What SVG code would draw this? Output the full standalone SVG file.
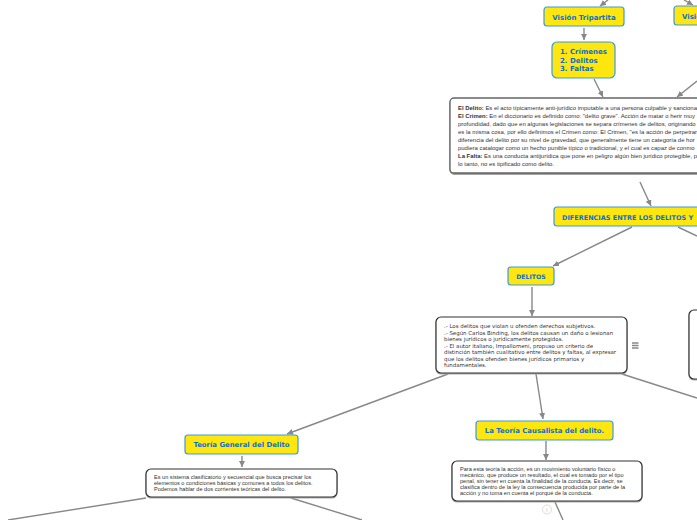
<svg xmlns="http://www.w3.org/2000/svg" width="697" height="520" viewBox="0 0 697 520">
<style>
.y{fill:#ffe60f;stroke:#3b9ae1;stroke-width:1.2}
.t{fill:#fff;stroke:#333;stroke-width:1.2;filter:drop-shadow(0 1px 0 #aaa)}
.g{fill:#fff;stroke:#666;stroke-width:1.3;filter:drop-shadow(0 1px 0 #888)}
.h{font-family:"DejaVu Sans",sans-serif;font-weight:700;fill:#0b6fd0}
.b{font-family:"Liberation Sans",Arial,sans-serif;font-size:5.6px;fill:#333}
.w{font-family:"Liberation Sans",Arial,sans-serif;font-size:5.95px;fill:#333}
.v{font-family:"DejaVu Sans",sans-serif;font-size:5.45px;fill:#333}
.c line{stroke:#888;stroke-width:1.4;fill:none}
.a{fill:#888}
</style>
<defs><marker id="m" markerWidth="7" markerHeight="7" refX="6" refY="3" orient="auto" markerUnits="userSpaceOnUse"><path class="a" d="M0 0L6 3L0 6z"/></marker></defs>
<g id="connectors" class="c">
<line x1="608" y1="0" x2="600" y2="6" marker-end="url(#m)"/>
<line x1="684" y1="0" x2="693" y2="5" marker-end="url(#m)"/>
<line x1="584" y1="28" x2="584" y2="40" marker-end="url(#m)"/>
<line x1="594" y1="79" x2="603" y2="97" marker-end="url(#m)"/>
<line x1="697" y1="81" x2="677" y2="97" marker-end="url(#m)"/>
<line x1="640" y1="182" x2="651" y2="206" marker-end="url(#m)"/>
<line x1="632" y1="227" x2="553" y2="266" marker-end="url(#m)"/>
<line x1="678" y1="227" x2="697" y2="236"/>
<line x1="532" y1="287" x2="532" y2="316" marker-end="url(#m)"/>
<line x1="448" y1="374" x2="287" y2="434" marker-end="url(#m)"/>
<line x1="536" y1="374" x2="543" y2="419" marker-end="url(#m)"/>
<line x1="622" y1="374" x2="697" y2="398"/>
<line x1="546" y1="441" x2="546" y2="460" marker-end="url(#m)"/>
<line x1="242" y1="456" x2="242" y2="467" marker-end="url(#m)"/>
<line x1="146" y1="498" x2="8" y2="520"/>
<line x1="291" y1="498" x2="362" y2="520"/>
<line x1="555" y1="502" x2="563" y2="520"/>
</g>
<g id="n1"><rect class="y" x="544" y="7" width="80" height="19" rx="3"/><text class="h" x="584" y="19.500" font-size="7" text-anchor="middle">Visión Tripartita</text></g>
<g id="n2"><rect class="y" x="674" y="6" width="40" height="19" rx="3"/><text class="h" x="682" y="18.500" font-size="7">Visión</text></g>
<g id="n3"><rect class="y" x="552" y="42" width="63" height="36" rx="5"/><text class="h" font-size="7"><tspan x="560" y="54">1. Crímenes</tspan><tspan x="560" y="63">2. Delitos</tspan><tspan x="560" y="71">3. Faltas</tspan></text></g>
<g id="n4"><rect class="g" x="450" y="98" width="280" height="75" rx="4"/><text class="w"><tspan x="458" y="110"><tspan font-weight="700">El Delito:</tspan> Es el acto típicamente anti-jurídico imputable a una persona culpable y sancionada</tspan><tspan x="458" y="118"><tspan font-weight="700">El Crimen:</tspan> En el diccionario es definido como: "delito grave". Acción de matar o herir muy</tspan><tspan x="458" y="126">profundidad, dado que en algunas legislaciones se separa crímenes de delitos, originando</tspan><tspan x="458" y="134">es la misma cosa, por ello definimos el Crimen como: El Crimen, "es la acción de perpetrar</tspan><tspan x="458" y="142">diferencia del delito por su nivel de gravedad, que generalmente tiene un categoría de hor</tspan><tspan x="458" y="150">pudiera catalogar como un hecho punible típico o tradicional, y el cual es capaz de conmo</tspan><tspan x="458" y="158"><tspan font-weight="700">La Falta:</tspan> Es una conducta antijurídica que pone en peligro algún bien jurídico protegible, p</tspan><tspan x="458" y="166">lo tanto, no es tipificado como delito.</tspan></text></g>
<g id="n5"><rect class="y" x="554" y="207" width="170" height="19" rx="3"/><text class="h" x="562" y="219.500" font-size="6.5">DIFERENCIAS ENTRE LOS DELITOS Y</text></g>
<g id="n6"><rect class="y" x="508" y="267" width="46" height="18" rx="3"/><text class="h" x="531" y="278.500" font-size="6.2" text-anchor="middle">DELITOS</text></g>
<g id="n7"><rect class="t" x="436" y="317" width="191" height="56" rx="5"/><text class="v"><tspan x="444" y="328">.- Los delitos que violan u ofenden derechos subjetivos.</tspan><tspan x="444" y="335">.- Según Carlos Binding, los delitos causan un daño o lesionan</tspan><tspan x="444" y="341">bienes jurídicos o jurídicamente protegidos.</tspan><tspan x="444" y="348">.- El autor italiano, Impallomeni, propuso un criterio de</tspan><tspan x="444" y="354">distinción también cualitativo entre delitos y faltas, al expresar</tspan><tspan x="444" y="361">que los delitos ofenden bienes jurídicos primarios y</tspan><tspan x="444" y="367">fundamentales.</tspan></text></g>
<path d="M632 343h6.500M632 345.500h6.500M632 348h6.500" stroke="#888" stroke-width="1.300" fill="none"/>
<g id="n8"><rect class="t" x="689" y="310" width="40" height="69" rx="5"/></g>
<g id="n9"><rect class="y" x="476" y="421" width="137" height="19" rx="3"/><text class="h" x="544.500" y="433" font-size="6.9" text-anchor="middle">La Teoría Causalista del delito.</text></g>
<g id="n10"><rect class="t" x="452" y="461" width="190" height="40" rx="5"/><text class="b"><tspan x="460" y="471">Para esta teoría la acción, es un movimiento voluntario físico o</tspan><tspan x="460" y="477">mecánico, que produce un resultado, el cual es tomado por el tipo</tspan><tspan x="460" y="483">penal, sin tener en cuenta la finalidad de la conducta. Es decir, se</tspan><tspan x="460" y="489">clasifica dentro de la ley la consecuencia producida por parte de la</tspan><tspan x="460" y="495">acción y no toma en cuenta el porqué de la conducta.</tspan></text></g>
<g id="info"><circle cx="547" cy="509.500" r="4.500" fill="#fff" stroke="#ddd"/><text x="547" y="512" font-family="'Liberation Sans',sans-serif" font-size="6" fill="#bbb" text-anchor="middle">i</text></g>
<g id="n11"><rect class="y" x="185" y="435" width="113" height="19" rx="3"/><text class="h" x="241.500" y="447" font-size="6.9" text-anchor="middle">Teoría General del Delito</text></g>
<g id="n12"><rect class="t" x="146" y="469" width="191" height="28" rx="5"/><text class="b"><tspan x="154" y="479">Es un sistema clasificatorio y secuencial que busca precisar los</tspan><tspan x="154" y="485">elementos o condiciones básicas y comunes a todos los delitos.</tspan><tspan x="154" y="491">Podemos hablar de dos corrientes teóricas del delito.</tspan></text></g>
</svg>
